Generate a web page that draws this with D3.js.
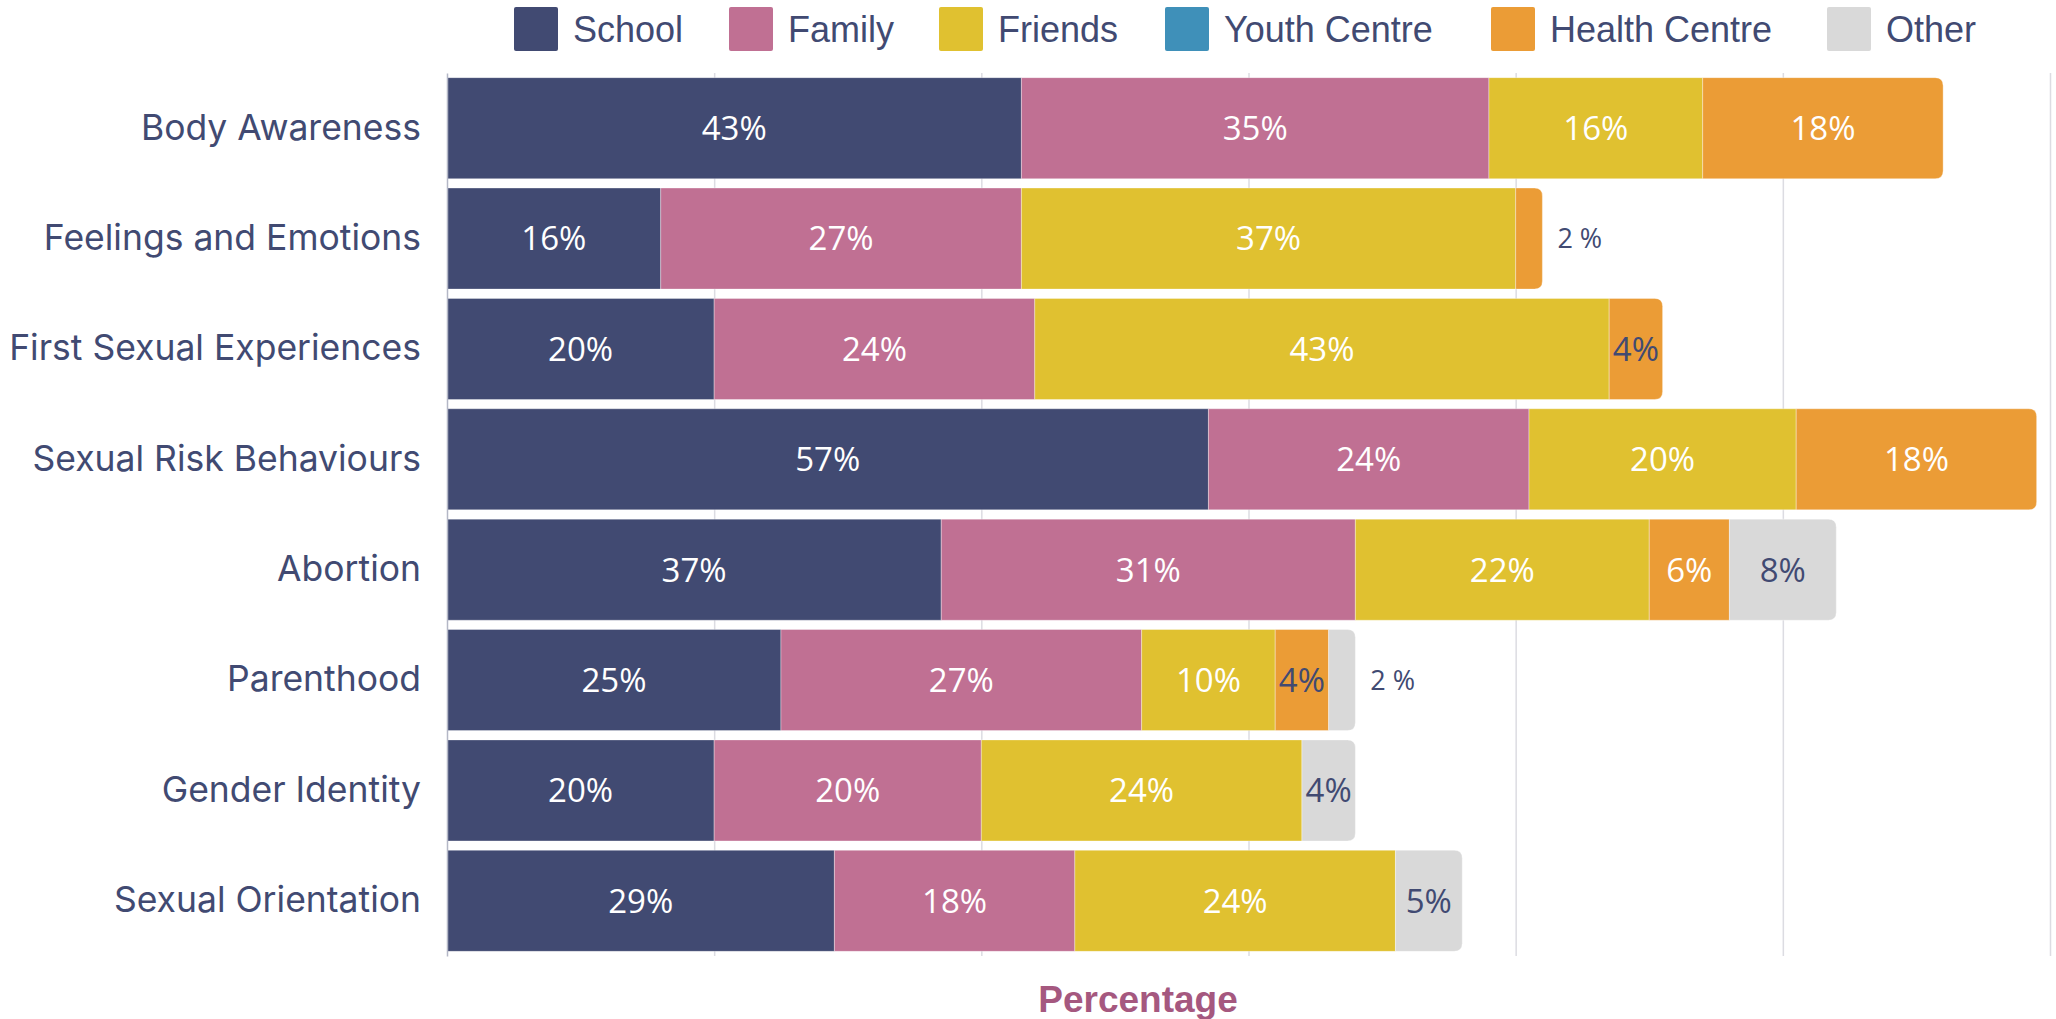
<!DOCTYPE html>
<html><head><meta charset="utf-8">
<script src="https://cdn.jsdelivr.net/npm/d3@7"></script>
<style>
html,body{margin:0;padding:0;background:#fff;}
svg{display:block;}
</style></head>
<body>
<svg id="chart" width="2056" height="1019"></svg>
<script>
const categories = ["Body Awareness","Feelings and Emotions","First Sexual Experiences","Sexual Risk Behaviours","Abortion","Parenthood","Gender Identity","Sexual Orientation"];
const seriesNames = ["School","Family","Friends","Youth Centre","Health Centre","Other"];
const school      = [43,16,20,57,37,25,20,29];
const family      = [35,27,24,24,31,27,20,18];
const friends     = [16,37,43,20,22,10,24,24];
const youthCentre = [0,0,0,0,0,0,0,0];
const healthCentre= [18,2,4,18,6,4,0,0];
const other       = [0,0,0,0,8,2,4,5];
const seriesColors = ["#414a72","#c07093","#e0c130","#3f90b9","#eb9c36","#d9d9d9"];
const gridTicks = [20,40,60,80,100,120];
const axisTitle = "Percentage";

const seriesValues = [school,family,friends,youthCentre,healthCentre,other];
const rows = categories.map((c,i)=>{
  const o={category:c};
  seriesNames.forEach((s,j)=>o[s]=seriesValues[j][i]);
  return o;
});

const svg = d3.select("#chart");
const margin = {left:447, right:6, top:73, bottom:63};
const W = 2056, H = 1019;

const x = d3.scaleLinear().domain([0,120]).range([margin.left, W-margin.right]);
const y = d3.scaleBand().domain(categories).range([margin.top, H-margin.bottom]).paddingInner(0.084).paddingOuter(0.042);

const dark = "#414a72";

// gridlines
svg.append("g")
  .attr("transform",`translate(0,${y.range()[1]})`)
  .call(d3.axisBottom(x).tickValues(gridTicks).tickSize(-(y.range()[1]-y.range()[0])).tickFormat(""))
  .call(g=>g.select(".domain").remove())
  .call(g=>g.selectAll(".tick line").attr("stroke","#dcdce2").attr("stroke-width",1.5));

const stacked = d3.stack().keys(seriesNames)(rows);

// index of last nonzero series per row
const lastIdx = rows.map(r=>{let k=-1; seriesNames.forEach((s,j)=>{if(r[s]>0)k=j;}); return k;});

function segPath(x0,x1,y0,h,round){
  const r = round?Math.min(8,(x1-x0)):0;
  if(!r) return `M${x0},${y0}H${x1}V${y0+h}H${x0}Z`;
  return `M${x0},${y0}H${x1-r}Q${x1},${y0} ${x1},${y0+r}V${y0+h-r}Q${x1},${y0+h} ${x1-r},${y0+h}H${x0}Z`;
}

const layers = svg.append("g").selectAll("g").data(stacked).join("g")
  .attr("fill",(d,i)=>seriesColors[i]);

layers.selectAll("path").data((d,i)=>d.map((p,ri)=>({p,ri,si:i}))).join("path")
  .filter(d=>d.p[1]-d.p[0]>0)
  .attr("d",d=>segPath(x(d.p[0]),x(d.p[1]),y(d.p.data.category),y.bandwidth(),lastIdx[d.ri]===d.si))
  .attr("stroke","rgba(255,255,255,0.35)").attr("stroke-width",1);

// value labels
const labels = [];
stacked.forEach((layer,si)=>{
  layer.forEach((p,ri)=>{
    const v = p[1]-p[0];
    if(v<=0) return;
    const inside = v>=4;
    const isDark = seriesNames[si]==="Other" || (seriesNames[si]==="Health Centre" && v<=4);
    labels.push({
      x: inside ? (x(p[0])+x(p[1]))/2 : x(p[1])+15,
      y: y(p.data.category)+y.bandwidth()/2,
      text: inside ? v+"%" : v+" %",
      anchor: inside?"middle":"start",
      color: inside ? (isDark?dark:"#ffffff") : dark,
      size: inside?33:27
    });
  });
});
svg.append("g").selectAll("text").data(labels).join("text")
  .attr("x",d=>d.x).attr("y",d=>d.y).attr("dy","0.36em")
  .attr("text-anchor",d=>d.anchor)
  .attr("fill",d=>d.color)
  .attr("font-family","'Open Sans', sans-serif")
  .attr("font-size",d=>d.size)
  .text(d=>d.text);

// y axis
svg.append("g")
  .attr("transform",`translate(${margin.left},0)`)
  .call(d3.axisLeft(y).tickSize(0).tickSizeOuter(0).tickPadding(26))
  .call(g=>g.select(".domain").attr("stroke","#b4b7c6").attr("stroke-width",1.5))
  .call(g=>g.selectAll(".tick text").attr("fill",dark).attr("font-family","Inter, sans-serif").attr("font-size",35.5));

// legend
const legendX = [514,729,939,1165,1491,1827];
const lg = svg.append("g").selectAll("g").data(seriesNames).join("g")
  .attr("transform",(d,i)=>`translate(${legendX[i]},7)`);
lg.append("rect").attr("width",44).attr("height",44).attr("rx",2).attr("fill",(d,i)=>seriesColors[i]);
lg.append("text").attr("x",59).attr("y",22).attr("dy","0.35em")
  .attr("fill",dark).attr("font-family","'Liberation Sans', Arial, sans-serif").attr("font-size",36).text(d=>d);

// axis title
svg.append("text").attr("x",1138).attr("y",999).attr("dy","0.35em")
  .attr("text-anchor","middle").attr("fill","#a5587f")
  .attr("font-family","'Liberation Sans', Arial, sans-serif").attr("font-weight",700).attr("font-size",37)
  .text(axisTitle);
</script>
</body></html>
